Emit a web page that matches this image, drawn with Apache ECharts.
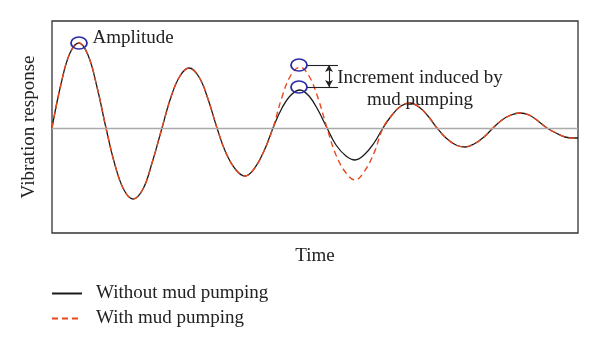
<!DOCTYPE html>
<html><head><meta charset="utf-8">
<script src="https://cdn.jsdelivr.net/npm/echarts@6/dist/echarts.min.js"></script>
<style>html,body{margin:0;padding:0;background:#fff}#c{width:600px;height:347px}</style>
</head><body><div id="c"></div>
<script>
// time samples (arbitrary units)
var times = [0,9,18,27,36,45, 54,63,72,81,91,100, 110,119,128,137,147,156, 165,174,184,193,202,212, 221,230,239,248,257,266, 275,284,294,303,312,322, 331,340,349,358,367,376, 385,394,404,413,422,432, 441,450,459,468,477,486, 495,504,513,522,526];
// vibration response without mud pumping
var withoutPumping = [0,44,75,85,73,41, 0,-37,-62,-71,-61,-35, 0,31,52,60,51,29, 0,-25,-42,-48,-41,-23, 0,20,33,38,32,18, 0,-17,-28,-32,-27,-15, 0,13,22,25,21,12, 0,-10,-17,-19,-16,-9, 0,8,13,15,13,7, 0,-5,-9,-10,-10];
// vibration response with mud pumping
var withPumping = [0,44,75,85,73,41, 0,-37,-62,-71,-61,-35, 0,31,52,60,51,29, 0,-25,-42,-48,-41,-23, 0,31,53,61,52,30, 0,-27,-45,-52,-44,-25, 0,13,22,25,21,12, 0,-10,-17,-19,-16,-9, 0,8,13,15,13,7, 0,-5,-9,-10,-10];
var seriesNames = ['Without mud pumping','With mud pumping'];
var annotationTexts = ['Amplitude','Increment induced by\nmud pumping'];
var circlePoints = [[27,85],[247,63],[247,41]];

var FONT = '"Liberation Serif", "DejaVu Serif", serif';
function pairs(xs, ys){ return xs.map(function(x,i){ return [x, ys[i]]; }); }

var chart = echarts.init(document.getElementById('c'));
chart.setOption({
  animation:false,
  grid:{left:52,right:22,top:21,bottom:114,show:true,borderColor:'#333',borderWidth:1.3,backgroundColor:'transparent'},
  xAxis:{type:'value',min:0,max:526,axisLine:{show:false},axisTick:{show:false},axisLabel:{show:false},splitLine:{show:false},
    name:'Time',nameLocation:'middle',nameGap:14,nameTextStyle:{fontFamily:FONT,fontSize:19,color:'#222'}},
  yAxis:{type:'value',min:-105,max:107,axisLine:{show:false},axisTick:{show:false},axisLabel:{show:false},splitLine:{show:false},
    name:'Vibration response',nameLocation:'middle',nameGap:13,nameTextStyle:{fontFamily:FONT,fontSize:19,color:'#222'}},
  legend:{orient:'vertical',left:46,top:279,itemWidth:30,itemHeight:10,itemGap:6,
    itemStyle:{opacity:0},
    textStyle:{fontFamily:FONT,fontSize:19,color:'#222',padding:[0,0,0,9]},
    data:seriesNames},
  series:[
    {name:seriesNames[0],type:'line',data:pairs(times,withoutPumping),smooth:0.4,showSymbol:false,symbol:'none',
      lineStyle:{color:'#1a1a1a',width:1.3},itemStyle:{color:'#1a1a1a'},
      markLine:{silent:true,symbol:'none',label:{show:false},lineStyle:{color:'#aaa',width:1.3,type:'solid'},data:[{yAxis:0}]}
    },
    {name:seriesNames[1],type:'line',data:pairs(times,withPumping),smooth:0.4,showSymbol:false,symbol:'none',
      lineStyle:{color:'#e8481c',width:1.4,type:[6,4]},itemStyle:{color:'#e8481c'}},
    {name:'annot',type:'line',data:[],
      markPoint:{silent:true,
        data:circlePoints.map(function(p){return {coord:p,symbol:'circle',symbolSize:[16,12],itemStyle:{color:'rgba(0,0,0,0)',borderColor:'#2c2ca8',borderWidth:1.6},label:{show:false}};})
          .concat([
            {coord:[40,90],symbol:'circle',symbolSize:1,itemStyle:{color:'rgba(0,0,0,0)'},label:{show:true,position:'right',distance:0,formatter:annotationTexts[0],fontFamily:FONT,fontSize:19,color:'#222'}},
            {coord:[368,39],symbol:'circle',symbolSize:1,itemStyle:{color:'rgba(0,0,0,0)'},label:{show:true,position:'inside',align:'center',verticalAlign:'middle',lineHeight:22,formatter:annotationTexts[1],fontFamily:FONT,fontSize:19,color:'#222'}}
          ])
      },
      markLine:{silent:true,symbol:'none',label:{show:false},lineStyle:{color:'#222',width:1.1,type:'solid'},
        data:[
          [{coord:[254,63]},{coord:[286,63]}],
          [{coord:[254,41]},{coord:[286,41]}],
          [{coord:[277,63],symbol:'arrow',symbolSize:[6,7]},{coord:[277,41],symbol:'arrow',symbolSize:[6,7]}]
        ]}
    }
  ]
});
</script></body></html>
